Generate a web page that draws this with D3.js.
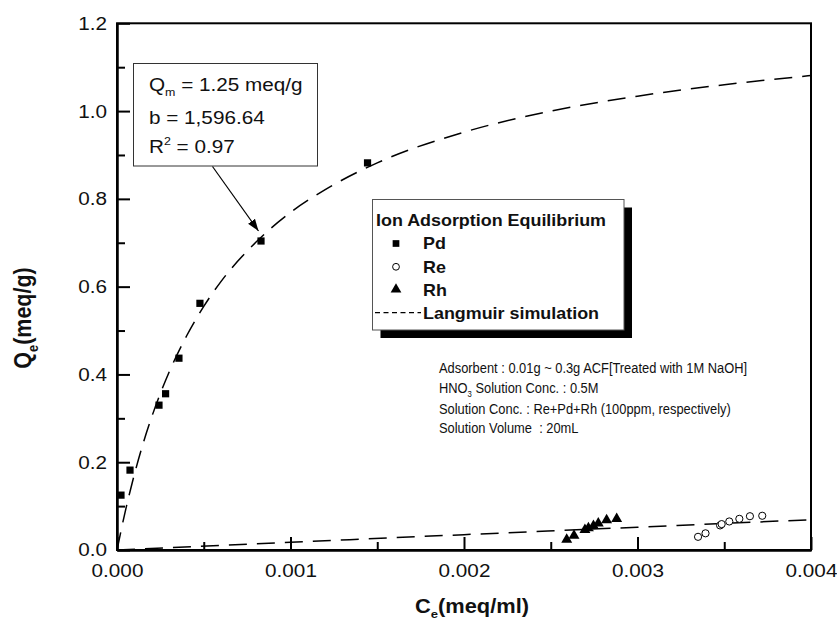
<!DOCTYPE html>
<html>
<head>
<meta charset="utf-8">
<script src="https://cdn.jsdelivr.net/npm/d3@7"></script>
<style>
  body { margin: 0; background: #fff; }
  svg { display: block; font-family: "Liberation Sans", Arial, sans-serif; }
</style>
</head>
<body>
<div id="chart"></div>
<script>
// measured points
const pdC = [0.000023, 0.000075, 0.000242, 0.00028, 0.000357, 0.000478, 0.00083, 0.001444];
const pdQ = [0.125, 0.182, 0.330, 0.356, 0.437, 0.562, 0.704, 0.882];
const reC = [0.003349, 0.003392, 0.003476, 0.003485, 0.003529, 0.003587, 0.003648, 0.003719];
const reQ = [0.030, 0.038, 0.056, 0.059, 0.065, 0.071, 0.077, 0.078];
const rhC = [0.002592, 0.002634, 0.002697, 0.002717, 0.002746, 0.002774, 0.002822, 0.00288];
const rhQ = [0.024, 0.033, 0.046, 0.050, 0.055, 0.061, 0.068, 0.071];

// Langmuir simulation curves
const fitC = [0, 0.00005, 0.0001, 0.00015, 0.0002, 0.0003, 0.0004, 0.0005, 0.0006, 0.0008,
              0.001, 0.0012, 0.0015, 0.002, 0.0025, 0.003, 0.0035, 0.004];
const fitQ = [0, 0.092, 0.172, 0.242, 0.303, 0.405, 0.487, 0.555, 0.612, 0.701,
              0.769, 0.821, 0.882, 0.952, 1.0, 1.034, 1.060, 1.081];
const fit2C = [0, 0.001, 0.002, 0.003, 0.004];
const fit2Q = [0, 0.0175, 0.035, 0.052, 0.069];

const xTicks = [0, 0.001, 0.002, 0.003, 0.004];
const yTicks = [0, 0.2, 0.4, 0.6, 0.8, 1.0, 1.2];

const width = 837, height = 625;
const sx = 1.12; // text in the figure is slightly wide
const margin = {left: 117, top: 23.3, right: 26, bottom: 75};

const svg = d3.select("#chart").append("svg")
  .attr("width", width).attr("height", height);

const x = d3.scaleLinear().domain([0, 0.004]).range([margin.left, width - margin.right]);
const y = d3.scaleLinear().domain([0, 1.2]).range([height - margin.bottom, margin.top]);

// frame
svg.append("rect")
  .attr("x", x(0)).attr("y", y(1.2))
  .attr("width", x(0.004) - x(0)).attr("height", y(0) - y(1.2))
  .attr("fill", "none").attr("stroke", "#000").attr("stroke-width", 2);

// axes, ticks pointing inward
const yAxis = svg.append("g").attr("transform", `translate(${x(0)},0)`)
  .call(d3.axisLeft(y).tickValues(yTicks).tickFormat(d3.format(".1f")).tickSizeInner(-13).tickSizeOuter(0).tickPadding(23));
const yMinor = svg.append("g").attr("transform", `translate(${x(0)},0)`)
  .call(d3.axisLeft(y).tickValues(d3.range(0.1, 1.2, 0.2)).tickFormat("").tickSizeInner(-8).tickSizeOuter(0));
const xAxis = svg.append("g").attr("transform", `translate(0,${y(0)})`)
  .call(d3.axisBottom(x).tickValues(xTicks).tickFormat(d3.format(".3f")).tickSizeInner(-13).tickSizeOuter(0).tickPadding(22));
const xMinor = svg.append("g").attr("transform", `translate(0,${y(0)})`)
  .call(d3.axisBottom(x).tickValues([0.0005, 0.0015, 0.0025, 0.0035]).tickFormat("").tickSizeInner(-8).tickSizeOuter(0));

[yAxis, yMinor, xAxis, xMinor].forEach(g => {
  g.select(".domain").attr("stroke-width", 2);
  g.selectAll(".tick line").attr("stroke-width", 2);
  g.selectAll(".tick text")
    .attr("font-family", "Liberation Sans, Arial, sans-serif")
    .attr("font-size", 18.5).attr("fill", "#111")
    .attr("transform", `scale(${sx},1)`);
});
yAxis.selectAll(".tick text").attr("x", -10 / sx);
xAxis.selectAll(".tick text").attr("y", 14);

// helper for wide text
function wideText(px, py, opts) {
  const s = opts.sx || sx;
  const g = svg.append("g").attr("transform", `translate(${px},${py}) scale(${s},1)${opts.rotate ? " rotate(-90)" : ""}`);
  const t = g.append("text")
    .attr("font-size", opts.size)
    .attr("font-weight", opts.bold ? "bold" : "normal")
    .attr("text-anchor", opts.anchor || "start")
    .attr("fill", "#111");
  opts.parts.forEach(p => {
    const ts = t.append("tspan").text(p.t);
    if (p.sub) ts.attr("font-size", opts.size * 0.6).attr("dy", opts.size * 0.3);
    if (p.sup) ts.attr("font-size", opts.size * 0.6).attr("dy", -opts.size * 0.45);
    if (p.back) ts.attr("dy", p.back);
  });
  return t;
}

// Langmuir curves
const line = d3.line().x(d => x(d[0])).y(d => y(d[1])).curve(d3.curveMonotoneX);
svg.append("path")
  .datum(d3.zip(fitC, fitQ))
  .attr("d", line)
  .attr("fill", "none").attr("stroke", "#000").attr("stroke-width", 1.5)
  .attr("stroke-dasharray", "18,10");
svg.append("path")
  .datum(d3.zip(fit2C, fit2Q))
  .attr("d", line)
  .attr("fill", "none").attr("stroke", "#000").attr("stroke-width", 1.5)
  .attr("stroke-dasharray", "18,10");

// markers
const sq = d3.symbol().type(d3.symbolSquare).size(52);
const tri = d3.symbol().type(d3.symbolTriangle).size(52);
svg.append("g").selectAll("path")
  .data(d3.zip(pdC, pdQ))
  .join("path")
  .attr("transform", d => `translate(${x(d[0])},${y(d[1])})`)
  .attr("d", sq).attr("fill", "#000");
svg.append("g").selectAll("circle")
  .data(d3.zip(reC, reQ))
  .join("circle")
  .attr("cx", d => x(d[0])).attr("cy", d => y(d[1]))
  .attr("r", 3.6).attr("fill", "#fff").attr("stroke", "#000").attr("stroke-width", 1);
svg.append("g").selectAll("path")
  .data(d3.zip(rhC, rhQ))
  .join("path")
  .attr("transform", d => `translate(${x(d[0])},${y(d[1])})`)
  .attr("d", tri).attr("fill", "#000");

// parameter box with arrow
svg.append("rect")
  .attr("x", 133.5).attr("y", 63.5).attr("width", 184).attr("height", 102.5)
  .attr("fill", "#fff").attr("stroke", "#333").attr("stroke-width", 1);
wideText(149, 90.7, {size: 18.5, parts: [{t: "Q"}, {t: "m", sub: true}, {t: " = 1.25 meq/g", back: -18.5 * 0.3}]});
wideText(149, 124, {size: 18.5, parts: [{t: "b = 1,596.64"}]});
wideText(149, 153.3, {size: 18.5, parts: [{t: "R"}, {t: "2", sup: true}, {t: " = 0.97", back: 18.5 * 0.45}]});

svg.append("defs").append("marker")
  .attr("id", "arrow").attr("viewBox", "0 0 10 10")
  .attr("refX", 10).attr("refY", 5)
  .attr("markerWidth", 12).attr("markerHeight", 12)
  .attr("markerUnits", "userSpaceOnUse")
  .attr("orient", "auto")
  .append("path").attr("d", "M0,1.5 L10,5 L0,8.5 Z").attr("fill", "#000");
svg.append("line")
  .attr("x1", 212.5).attr("y1", 166.5).attr("x2", 258.5).attr("y2", 231)
  .attr("stroke", "#000").attr("stroke-width", 1.2)
  .attr("marker-end", "url(#arrow)");

// legend
const lg = {x: 372.5, y: 199.5, w: 251.5, h: 130.5};
svg.append("rect")
  .attr("x", lg.x + 8).attr("y", lg.y + 8).attr("width", lg.w).attr("height", lg.h)
  .attr("fill", "#000");
svg.append("rect")
  .attr("x", lg.x).attr("y", lg.y).attr("width", lg.w).attr("height", lg.h)
  .attr("fill", "#fff").attr("stroke", "#555").attr("stroke-width", 1);
wideText(376, 225.7, {size: 16, bold: true, parts: [{t: "Ion Adsorption Equilibrium"}]});
const legendNames = ["Pd", "Re", "Rh", "Langmuir simulation"];
legendNames.forEach((name, i) => {
  const by = 249.3 + i * 23.35;
  wideText(423, by, {size: 16, bold: true, parts: [{t: name}]});
});
svg.append("path").attr("transform", "translate(396,243.5)").attr("d", d3.symbol().type(d3.symbolSquare).size(45)).attr("fill", "#000");
svg.append("circle").attr("cx", 396).attr("cy", 266.8).attr("r", 3.4).attr("fill", "#fff").attr("stroke", "#000");
svg.append("path").attr("transform", "translate(396,289.5)").attr("d", d3.symbol().type(d3.symbolTriangle).size(50)).attr("fill", "#000");
svg.append("line").attr("x1", 375).attr("x2", 421).attr("y1", 312.7).attr("y2", 312.7)
  .attr("stroke", "#000").attr("stroke-width", 1.3).attr("stroke-dasharray", "5,3.5");

// conditions text
const cond = {size: 14, sx: 0.92};
wideText(439, 372.7, {...cond, parts: [{t: "Adsorbent : 0.01g ~ 0.3g ACF[Treated with 1M NaOH]"}]});
wideText(439, 392.7, {...cond, parts: [{t: "HNO"}, {t: "3", sub: true}, {t: " Solution Conc. : 0.5M", back: -14 * 0.3}]});
wideText(439, 414.3, {...cond, parts: [{t: "Solution Conc. : Re+Pd+Rh (100ppm, respectively)"}]});
wideText(439, 432.7, {...cond, parts: [{t: "Solution Volume  : 20mL"}]}).attr("xml:space", "preserve");

// axis titles
wideText(472, 612.5, {size: 19.5, bold: true, anchor: "middle",
  parts: [{t: "C"}, {t: "e", sub: true}, {t: "(meq/ml)", back: -19.5 * 0.3}]});
wideText(31, 318, {size: 21.5, bold: true, anchor: "middle", rotate: true,
  parts: [{t: "Q"}, {t: "e", sub: true}, {t: "(meq/g)", back: -21.5 * 0.3}]});
</script>
</body>
</html>
